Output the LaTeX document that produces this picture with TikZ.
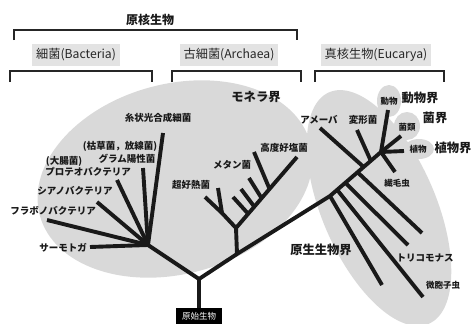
\documentclass[tikz,border=0pt]{standalone}
\usepackage{fontspec}
\newfontfamily\jp{Noto Sans CJK JP}
\usetikzlibrary{calc}
\tikzset{
  bgfill/.style={fill=gray!30},
  brk/.style={line width=1.3pt, black!85},
  tr/.style={line width=3.9pt, black!90, line join=round},
  lbl/.style={font=\jp\bfseries\fontsize{9.5}{10}\selectfont, inner sep=0pt, text=black!90},
  slbl/.style={font=\jp\bfseries\fontsize{8.5}{9}\selectfont, inner sep=0pt, text=black!90},
  king/.style={font=\jp\bfseries\fontsize{12.3}{13}\selectfont, inner sep=0pt, text=black!90},
  hdr/.style={font=\jp\fontsize{12.2}{13}\selectfont, fill=gray!22, inner xsep=4pt, minimum height=22pt, text=black!85},
  rootbox/.style={fill=black, text=white, font=\jp\fontsize{8.5}{9}\selectfont, minimum width=46pt, minimum height=17pt, inner sep=1pt}
}
\begin{document}
\begin{tikzpicture}[x=1pt,y=-1pt]
\useasboundingbox (0,0) rectangle (474,324);
% background regions
\fill[bgfill, rotate around={15:(175,179)}] (175,179) ellipse [x radius=140pt, y radius=95pt];
\fill[bgfill, rotate around={-66.7:(379,208)}] (379,208) ellipse [x radius=126pt, y radius=57pt];
\fill[bgfill] (389,101) ellipse [x radius=12pt, y radius=16pt];
\fill[bgfill] (407,126) ellipse [x radius=13pt, y radius=14pt];
\fill[bgfill] (419,149) ellipse [x radius=15pt, y radius=10pt];

% brackets
\node[font=\jp\bfseries\fontsize{12}{13}\selectfont, inner sep=0pt, text=black!90] (prok) at (150,20) {原核生物};
\coordinate (pk1) at (14,40); \coordinate (pk2) at (14,30); \coordinate (pk3) at (297,30); \coordinate (pk4) at (297,40);
\draw[brk] (pk1) -- (pk2) -- (pk3) -- (pk4);
\node[hdr] (hb) at (76,55) {細菌(Bacteria)};
\node[hdr] (ha) at (229,55) {古細菌(Archaea)};
\node[hdr] (he) at (376,55) {真核生物(Eucarya)};
\coordinate (bb1) at (10,82); \coordinate (bb2) at (10,71); \coordinate (bb3) at (152,71); \coordinate (bb4) at (152,82);
\draw[brk] (bb1) -- (bb2) -- (bb3) -- (bb4);
\coordinate (ab1) at (172,82); \coordinate (ab2) at (172,71); \coordinate (ab3) at (301,71); \coordinate (ab4) at (301,82);
\draw[brk] (ab1) -- (ab2) -- (ab3) -- (ab4);
\coordinate (eb1) at (315,82); \coordinate (eb2) at (315,71); \coordinate (eb3) at (444,71); \coordinate (eb4) at (444,82);
\draw[brk] (eb1) -- (eb2) -- (eb3) -- (eb4);

% root
\node[rootbox] (root) at (199,316.5) {原始生物};
\coordinate (R0) at (199,279);
\coordinate (B0) at (148,245);
\coordinate (A0) at (237,254);
\coordinate (A1) at (236,228);
\coordinate (AL) at (222,213);
\coordinate (E1) at (330,196);
\coordinate (E2) at (381,152);
\coordinate (E3) at (401,136);
\draw[tr] ([yshift=2pt]R0) -- (root.north);
\draw[tr] (B0) -- (R0) -- (A0) -- (E1) -- (E2) -- (E3);

% bacteria
\coordinate (bT) at (90,247);
\coordinate (bF) at (47,220);
\coordinate (bC) at (97,202);
\coordinate (bP) at (117,180);
\coordinate (bG) at (143,168);
\coordinate (bS) at (163,133);
\foreach \e in {bT,bF,bC,bP,bG,bS} \draw[tr] (B0) -- (\e);

% archaea
\coordinate (aH1) at (205,197);
\coordinate (aH2) at (218,188);
\coordinate (aS) at (297,157);
\draw[tr] (A0) -- (A1);
\draw[tr] (A1) -- (AL) -- (aH1);
\draw[tr] (AL) -- (aH2);
\draw[tr] (A1) -- (aS);
\coordinate (m1) at (233,197); \coordinate (m1b) at ($(A1)!0.2!(aS)$);
\coordinate (m2) at (241,189); \coordinate (m2b) at ($(A1)!0.3!(aS)$);
\coordinate (m3) at (249,178); \coordinate (m3b) at ($(A1)!0.42!(aS)$);
\coordinate (m4) at (254,152); \coordinate (m4b) at ($(A1)!0.55!(aS)$);
\foreach \i in {1,2,3,4} \draw[tr] (m\i) -- (m\i b);

% eucarya protists
\coordinate (p1) at (382,285);
\coordinate (p2) at (423,297);
\coordinate (p3) at (408,245);
\coordinate (p4) at (422,233);
\coordinate (p2b) at ($(E1)!0.14!(E2)$);
\coordinate (p3b) at ($(E1)!0.3!(E2)$);
\coordinate (p4b) at ($(E1)!0.54!(E2)$);
\draw[tr] (E1) -- (p1);
\draw[tr] (p2b) -- (p2);
\draw[tr] (p3b) -- (p3);
\draw[tr] (p4b) -- (p4);
\coordinate (eA) at (320,128); \coordinate (eAb) at ($(E1)!0.66!(E2)$);
\coordinate (eV) at (357,130); \coordinate (eVb) at ($(E1)!0.8!(E2)$);
\draw[tr] (eA) -- (eAb);
\draw[tr] (eV) -- (eVb);
\coordinate (eD) at (388,110);
\coordinate (eP) at (404,151);
\coordinate (eC) at (395,172);
\draw[tr] (E2) -- (eD);
\draw[tr] (E2) -- (eP);
\draw[tr] (E2) -- (eC);

% labels bacteria
\node[lbl] (l1) at (158,118) {糸状光合成細菌};
\node[lbl] (l2) at (120,146) {(枯草菌，放線菌)};
\node[lbl] (l3) at (127,159) {グラム陽性菌};
\node[lbl] (l4) at (64,161) {(大腸菌)};
\node[lbl] (l5) at (88,172) {プロテオバクテリア};
\node[lbl] (l6) at (75,191) {シアノバクテリア};
\node[lbl] (l7) at (53,211) {フラボノバクテリア};
\node[lbl] (l8) at (63,248) {サーモトガ};
% labels archaea
\node[king] (mon) at (256,97) {モネラ界};
\node[lbl] (l9) at (191,185) {超好熱菌};
\node[lbl] (l10) at (232,165) {メタン菌};
\node[lbl] (l11) at (284,148) {高度好塩菌};
% labels eucarya
\node[lbl] (l12) at (319,120) {アメーバ};
\node[lbl] (l13) at (363,120) {変形菌};
\node[slbl] (l14) at (389,101) {動物};
\node[slbl] (l15) at (407,127) {菌類};
\node[slbl] (l16) at (418,149) {植物};
\node[slbl] (l17) at (397,183) {繊毛虫};
\node[king] (k1) at (420,98) {動物界};
\node[king] (k2) at (435,118) {菌界};
\node[king] (k3) at (453,148) {植物界};
\node[king] (k4) at (321,250) {原生生物界};
\node[lbl] (l18) at (425,258) {トリコモナス};
\node[slbl] (l19) at (443,285) {微胞子虫};
\end{tikzpicture}
\end{document}
